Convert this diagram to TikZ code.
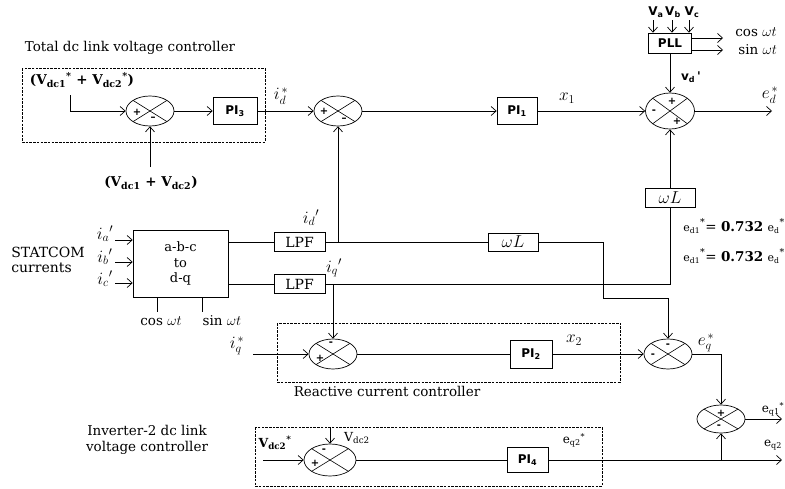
\documentclass[tikz,border=0pt]{standalone}
\usepackage{fontspec}
\setmainfont{DejaVu Serif}
\newfontfamily\sanb{DejaVu Sans}
\usetikzlibrary{shapes.geometric,arrows.meta}
\DeclareMathSizes{16}{16}{12.5}{10}
\newcommand{\pisub}[1]{PI\textsubscript{#1}}
\begin{document}
\begin{tikzpicture}[x=1pt,y=-1pt,line width=0.7pt,
  arr/.style={-{Straight Barb[length=5pt,width=9pt]}},
  blk/.style={draw, inner sep=0pt, font=\sanb\bfseries\fontsize{12}{13}\selectfont},
  blkm/.style={draw, inner sep=0pt, font=\fontsize{14}{15}\selectfont},
  blkw/.style={draw, inner sep=0pt, font=\fontsize{16}{17}\selectfont},
  sumj/.style={draw, ellipse, inner sep=0pt, minimum width=48pt, minimum height=30pt,
    path picture={\draw[line width=0.6pt] (path picture bounding box.north west) -- (path picture bounding box.south east)
      (path picture bounding box.north east) -- (path picture bounding box.south west);}},
  sgn/.style={font=\sanb\bfseries\fontsize{10}{10}\selectfont, inner sep=0pt},
  dbox/.style={draw, dash pattern=on 2.5pt off 1.2pt, line width=0.6pt},
  ttl/.style={inner sep=0pt, font=\fontsize{13.5}{15.5}\selectfont},
  bv/.style={inner sep=0pt, font=\bfseries\fontsize{13.5}{15}\selectfont},
  ml/.style={inner sep=0pt, font=\fontsize{13.5}{15}\selectfont},
  mth/.style={inner sep=0pt, font=\fontsize{16}{17}\selectfont},
  sl/.style={inner sep=0pt, font=\sanb\bfseries\fontsize{12}{13}\selectfont}
]
\useasboundingbox (0,0) rectangle (785,488);

% ---------- Total dc link voltage controller ----------
\draw[dbox] (22,68) rectangle (265,142);
\node[ttl] (t1) at (130,48) {Total dc link voltage controller};
\node[bv] (vref) at (82,80) {(V\textsubscript{dc1}\textsuperscript{*} + V\textsubscript{dc2}\textsuperscript{*})};
\coordinate (vrefd) at (70,95);
\node[sumj] (s1) at (150,111) {};
\node[sgn] (s1a) at ([shift={(-13,1)}]s1.center) {+};
\node[sgn] (s1b) at ([shift={(3,8)}]s1.center) {–};
\draw[arr] (vrefd) |- (s1);
\node[bv] (vmeas) at (151,183) {(V\textsubscript{dc1} + V\textsubscript{dc2})};
\coordinate (vmt) at (150,167);
\draw[arr] (vmt) -- (s1);
\node[blk, minimum width=44pt, minimum height=27pt] (pi3) at (235,111) {\pisub{3}};
\draw[arr] (s1) -- (pi3);

% ---------- d-axis ----------
\node[sumj] (s2) at (338,111) {};
\node[sgn] (s2a) at ([shift={(-14,0)}]s2.center) {+};
\node[sgn] (s2b) at ([shift={(6,9)}]s2.center) {–};
\draw[arr] (pi3) -- (s2);
\node[mth] (idsl) at (281,96) {$i_d^{\,*}$};
\node[blk, minimum width=40pt, minimum height=27pt] (pi1) at (517,111) {\pisub{1}};
\draw[arr] (s2) -- (pi1);
\node[sumj, minimum width=49pt, minimum height=36pt] (s3) at (670,111) {};
\node[sgn] (s3a) at ([shift={(2,-10)}]s3.center) {+};
\node[sgn] (s3b) at ([shift={(-16,1)}]s3.center) {-};
\node[sgn] (s3c) at ([shift={(7,10)}]s3.center) {+};
\draw[arr] (pi1) -- (s3);
\node[mth] (x1l) at (567,98) {$x_1$};
\coordinate (edend) at (772,111);
\draw[arr] (s3) -- (edend);
\node[mth] (edl) at (770,95) {$e_d^{\,*}$};

% ---------- PLL ----------
\node[blk, minimum width=43pt, minimum height=20pt] (pll) at (670,43) {PLL};
\node[sl] (val) at (656,12) {V\textsubscript{a}};
\node[sl] (vbl) at (673,12) {V\textsubscript{b}};
\node[sl] (vcl) at (692,12) {V\textsubscript{c}};
\coordinate (pa) at (653,20);
\coordinate (pb) at (672,20);
\coordinate (pc) at (689,20);
\draw[arr] (pa) -- (pa |- pll.north);
\draw[arr] (pb) -- (pb |- pll.north);
\draw[arr] (pc) -- (pc |- pll.north);
\coordinate (c1) at (723,38);
\coordinate (c2) at (723,50);
\draw[arr] (pll.east |- c1) -- (c1);
\draw[arr] (pll.east |- c2) -- (c2);
\node[ml, anchor=west] (cos1) at (735,32) {cos $\omega t$};
\node[ml, anchor=west] (sin1) at (738,50) {sin $\omega t$};
\draw[arr] (pll) -- (s3);
\node[sl] (vdl) at (691,77) {v\textsubscript{d}\,'};
\node[blkw, minimum width=50pt, minimum height=19pt] (wl1) at (670,197.5) {$\omega L$};
\draw[arr] (wl1) -- (s3);

% ---------- abc to dq ----------
\node[draw, minimum width=95pt, minimum height=67pt, align=center, inner sep=0pt,
      font=\fontsize{13}{15.5}\selectfont] (abc) at (180.5,263.5) {a-b-c\\to\\d-q};
\node[ttl, anchor=west, align=left, font=\fontsize{14}{15.5}\selectfont] (stat) at (11,260) {STATCOM\\currents};
\coordinate (ia) at (115,240);
\coordinate (ib) at (115,262);
\coordinate (ic) at (115,283);
\draw[arr] (ia) -- (ia -| abc.west);
\draw[arr] (ib) -- (ib -| abc.west);
\draw[arr] (ic) -- (ic -| abc.west);
\node[mth] (ial) at (105,234) {$i_a{}'$};
\node[mth] (ibl) at (105,257) {$i_b{}'$};
\node[mth] (icl) at (105,279) {$i_c{}'$};
\coordinate (ct) at (157,312);
\coordinate (st) at (202,312);
\draw (ct |- abc.south) -- (ct);
\draw (st |- abc.south) -- (st);
\node[ml] (cosl) at (161,321) {cos $\omega t$};
\node[ml] (sinl) at (222,321) {sin $\omega t$};

\node[blkm, minimum width=51pt, minimum height=19pt] (lpf1) at (299.5,242) {LPF};
\node[blkm, minimum width=51pt, minimum height=19pt] (lpf2) at (299.5,284) {LPF};
\draw (abc.east |- lpf1) -- (lpf1);
\draw (abc.east |- lpf2) -- (lpf2);

\node[blkw, minimum width=50pt, minimum height=18pt] (wl2) at (513,242) {$\omega L$};
\draw (lpf1) -- (wl2);
\coordinate (idb) at (338,242);
\draw[arr] (idb) -- (s2);
\node[mth] (idl) at (311,218) {$i_d{}'$};

\coordinate (iqturn) at (670,284);
\draw (lpf2) -- (iqturn) -- (wl1);
\coordinate (iqb) at (333,284);
\node[mth] (iql) at (334,268) {$i_q{}'$};

% ---------- Reactive current controller ----------
\draw[dbox] (277,323) rectangle (620,382);
\node[ttl] (t2) at (387,391) {Reactive current controller};
\node[sumj] (s4) at (333,354) {};
\node[sgn] (s4a) at ([shift={(-2,-10)}]s4.center) {-};
\node[sgn] (s4b) at ([shift={(-13,4)}]s4.center) {+};
\draw[arr] (iqb) -- (s4);
\coordinate (iqs) at (253,354);
\draw[arr] (iqs) -- (s4);
\node[mth] (iqsl) at (237,346) {$i_q^{\,*}$};
\node[blk, minimum width=42pt, minimum height=28pt] (pi2) at (531,354) {\pisub{2}};
\draw (s4) -- (pi2);
\node[sumj] (s5) at (668,354) {};
\node[sgn] (s5a) at ([shift={(0,-8)}]s5.center) {-};
\node[sgn] (s5b) at ([shift={(-15,2)}]s5.center) {-};
\draw[arr] (pi2) -- (s5);
\node[mth] (x2l) at (574,340) {$x_2$};
\coordinate (k1) at (603,298);
\draw[arr] (wl2) -| (k1) -| (s5);
\node[mth] (eql) at (706,343) {$e_q^{\,*}$};

\node[ml, anchor=west] (e1) at (683,226) {{\fontsize{11}{12}\selectfont e\textsubscript{d1}}\textsuperscript{*}= \textbf{0.732} {\fontsize{11}{12}\selectfont e\textsubscript{d}}\textsuperscript{*}};
\node[ml, anchor=west] (e2) at (683,256) {{\fontsize{11}{12}\selectfont e\textsubscript{d1}}\textsuperscript{*}= \textbf{0.732} {\fontsize{11}{12}\selectfont e\textsubscript{d}}\textsuperscript{*}};

% ---------- output sum ----------
\node[sumj, minimum height=28pt] (s6) at (721,419) {};
\node[sgn] (s6a) at ([shift={(0,-6)}]s6.center) {+};
\node[sgn] (s6b) at ([shift={(-2,8)}]s6.center) {-};
\draw[arr] (s5) -| (s6);
\coordinate (eq1e) at (782,419);
\draw[arr] (s6) -- (eq1e);
\node[ml, font=\fontsize{12}{13}\selectfont] (eq1l) at (773,409) {e\textsubscript{q1}\textsuperscript{*}};

% ---------- Inverter-2 dc link voltage controller ----------
\draw[dbox] (255,427) rectangle (602,486);
\node[ttl, align=center] (t3) at (147,440) {Inverter-2 dc link\\voltage controller};
\node[sumj, minimum width=52pt, minimum height=32pt] (s7) at (330,460) {};
\node[sgn] (s7a) at ([shift={(-6,-9)}]s7.center) {-};
\node[sgn] (s7b) at ([shift={(-15,3)}]s7.center) {+};
\coordinate (vin) at (263,460);
\draw[arr] (vin) -- (s7);
\node[bv, font=\bfseries\fontsize{12.5}{14}\selectfont] (vdcs) at (275,443) {V\textsubscript{dc2}\textsuperscript{*}};
\coordinate (vtop) at (330,427);
\draw[arr] (vtop) -- (s7);
\node[ml, font=\fontsize{12.5}{14}\selectfont] (vdc2l) at (357,438) {V\textsubscript{dc2}};
\node[blk, minimum width=41pt, minimum height=25pt] (pi4) at (527.5,460) {\pisub{4}};
\draw (s7) -- (pi4);
\coordinate (eq2e) at (782,460);
\draw[arr] (pi4) -- (eq2e);
\coordinate (br) at (721,460);
\draw[arr] (br) -- (s6);
\node[ml, font=\fontsize{12}{13}\selectfont] (eq2sl) at (574,440) {e\textsubscript{q2}\textsuperscript{*}};
\node[ml, font=\fontsize{12}{13}\selectfont] (eq2l) at (773,445) {e\textsubscript{q2}};
\end{tikzpicture}
\end{document}
